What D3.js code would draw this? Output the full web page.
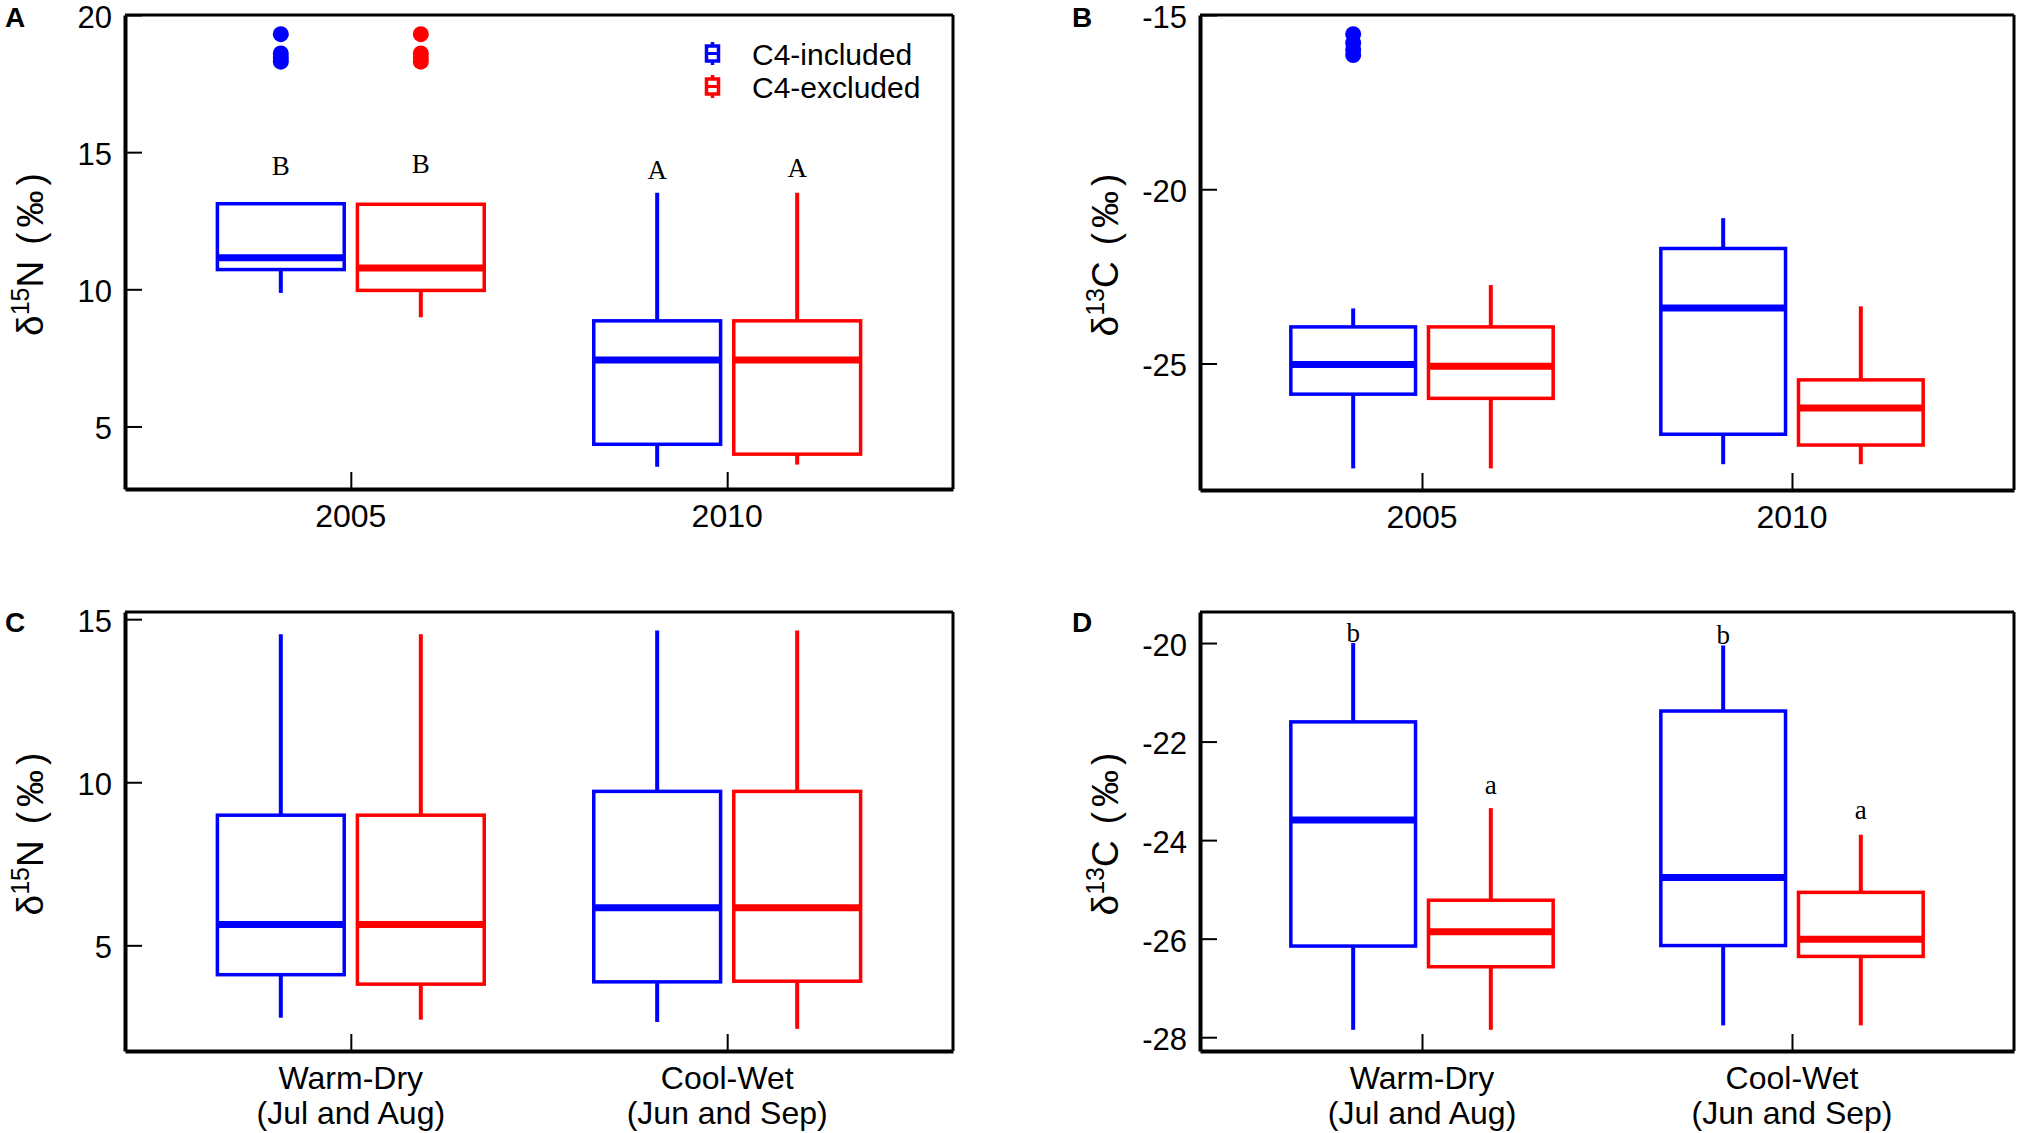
<!DOCTYPE html>
<html>
<head>
<meta charset="utf-8">
<script src="https://cdn.jsdelivr.net/npm/d3@7"></script>
<style>
  html, body { margin: 0; padding: 0; background: #fff; }
  svg { display: block; }
</style>
</head>
<body>
<div id="chart"></div>
<script>
// --- data (box stats: [lowWhisker, q1, median, q3, highWhisker]) ---
const series = ["C4-included", "C4-excluded"];
const seriesColors = ["#0000ff", "#ff0000"];
const yearLabels = [["2005"], ["2010"]];
const seasonLabels = [["Warm-Dry", "(Jul and Aug)"], ["Cool-Wet", "(Jun and Sep)"]];

const nYearIncluded = [[9.87, 10.72, 11.15, 13.12, 13.12], [3.53, 4.35, 7.42, 8.85, 13.52]];
const nYearExcluded = [[8.98, 9.96, 10.78, 13.1, 13.1], [3.61, 3.99, 7.42, 8.85, 13.52]];
const nYearOutIncluded = [[19.3, 18.6, 18.45, 18.3], []];
const nYearOutExcluded = [[19.3, 18.6, 18.45, 18.3], []];
const nYearLetters = [["B", 14.5], ["B", 14.6], ["A", 14.35], ["A", 14.45]];
const nYearTicks = [5, 10, 15, 20];

const cYearIncluded = [[-28.01, -25.88, -25.03, -23.95, -23.42], [-27.89, -27.03, -23.41, -21.7, -20.83]];
const cYearExcluded = [[-28.01, -26.0, -25.08, -23.95, -22.75], [-27.89, -27.34, -26.28, -25.47, -23.36]];
const cYearOutIncluded = [[-15.55, -15.8, -16.0, -16.15], []];
const cYearOutExcluded = [[], []];
const cYearTicks = [-25, -20, -15];

const nSeasonIncluded = [[2.78, 4.10, 5.64, 8.99, 14.54], [2.65, 3.88, 6.15, 9.72, 14.65]];
const nSeasonExcluded = [[2.72, 3.81, 5.64, 8.99, 14.54], [2.44, 3.90, 6.15, 9.72, 14.65]];
const nSeasonTicks = [5, 10, 15];

const cSeasonIncluded = [[-27.85, -26.15, -23.59, -21.6, -20.0], [-27.76, -26.14, -24.76, -21.38, -20.05]];
const cSeasonExcluded = [[-27.85, -26.57, -25.86, -25.22, -23.35], [-27.76, -26.36, -26.01, -25.06, -23.89]];
const cSeasonLetters = [["b", -19.78], ["a", -22.88], ["b", -19.82], ["a", -23.37]];
const cSeasonTicks = [-28, -26, -24, -22, -20];

const W = 2021, H = 1133;
const sans = "'Liberation Sans', Arial, sans-serif";
const serif = "'Liberation Serif', 'Times New Roman', serif";

const svg = d3.select("#chart").append("svg")
    .attr("width", W).attr("height", H)
    .attr("viewBox", `0 0 ${W} ${H}`);

const panels = [
    { tag: "A", x0: 125, x1: 953, y0: 15, y1: 489, domain: [2.72, 20], ticks: nYearTicks,
      iso: "15", el: "N", cats: yearLabels, boxes: [nYearIncluded, nYearExcluded],
      outs: [nYearOutIncluded, nYearOutExcluded], letters: nYearLetters, legend: true },
    { tag: "B", x0: 1200, x1: 2014, y0: 15, y1: 490, domain: [-28.63, -15], ticks: cYearTicks,
      iso: "13", el: "C", cats: yearLabels, boxes: [cYearIncluded, cYearExcluded],
      outs: [cYearOutIncluded, cYearOutExcluded], letters: [] },
    { tag: "C", x0: 125, x1: 953, y0: 612, y1: 1051, domain: [1.76, 15.22], ticks: nSeasonTicks,
      iso: "15", el: "N", cats: seasonLabels, boxes: [nSeasonIncluded, nSeasonExcluded],
      outs: [[[], []], [[], []]], letters: [] },
    { tag: "D", x0: 1200, x1: 2014, y0: 612, y1: 1051, domain: [-28.28, -19.37], ticks: cSeasonTicks,
      iso: "13", el: "C", cats: seasonLabels, boxes: [cSeasonIncluded, cSeasonExcluded],
      outs: [[[], []], [[], []]], letters: cSeasonLetters }
];

const offsets = [-0.186, 0.186];
const boxW = 0.337;

const drawPanel = (p) => {
    const g = svg.append("g");
    const x = d3.scaleLinear().domain([0.4, 2.6]).range([p.x0, p.x1]);
    const y = d3.scaleLinear().domain(p.domain).range([p.y1, p.y0]);

    // boxes
    p.boxes.forEach((stats, s) => {
        const col = seriesColors[s];
        stats.forEach((b, i) => {
            const cx = x(i + 1 + offsets[s]);
            const xl = x(i + 1 + offsets[s] - boxW / 2), xr = x(i + 1 + offsets[s] + boxW / 2);
            g.append("line").attr("x1", cx).attr("x2", cx)
                .attr("y1", y(b[0])).attr("y2", y(b[1]))
                .attr("stroke", col).attr("stroke-width", 4);
            g.append("line").attr("x1", cx).attr("x2", cx)
                .attr("y1", y(b[3])).attr("y2", y(b[4]))
                .attr("stroke", col).attr("stroke-width", 4);
            g.append("rect").attr("x", xl).attr("width", xr - xl)
                .attr("y", y(b[3])).attr("height", y(b[1]) - y(b[3]))
                .attr("fill", "none").attr("stroke", col).attr("stroke-width", 3.5);
            g.append("line").attr("x1", xl).attr("x2", xr)
                .attr("y1", y(b[2])).attr("y2", y(b[2]))
                .attr("stroke", col).attr("stroke-width", 7);
            // outliers
            g.selectAll(null).data(p.outs[s][i]).enter().append("circle")
                .attr("cx", cx).attr("cy", d => y(d)).attr("r", 8)
                .attr("fill", col);
        });
    });

    // significance letters (order: incl g1, excl g1, incl g2, excl g2)
    p.letters.forEach((l, k) => {
        const grp = Math.floor(k / 2) + 1, s = k % 2;
        g.append("text").attr("x", x(grp + offsets[s])).attr("y", y(l[1]))
            .attr("dy", "0.35em").attr("text-anchor", "middle")
            .attr("font-family", serif).attr("font-size", 27).text(l[0]);
    });

    // frame
    g.append("line").attr("x1", p.x0).attr("x2", p.x1).attr("y1", p.y0).attr("y2", p.y0)
        .attr("stroke", "#000").attr("stroke-width", 3);
    g.append("line").attr("x1", p.x1).attr("x2", p.x1).attr("y1", p.y0).attr("y2", p.y1)
        .attr("stroke", "#000").attr("stroke-width", 3);

    // y axis, inward ticks, plain hyphen for negatives
    const yAxis = g.append("g").attr("transform", `translate(${p.x0},0)`)
        .call(d3.axisLeft(y).tickValues(p.ticks).tickSizeInner(-17).tickSizeOuter(0)
            .tickPadding(13).tickFormat(d => String(d)));
    yAxis.select(".domain").attr("stroke-width", 4);
    yAxis.selectAll(".tick line").attr("stroke-width", 2);
    yAxis.selectAll(".tick text").attr("font-family", sans).attr("font-size", 31)
        .attr("dy", "0.4em").attr("fill", "#000");

    // x axis
    const xAxis = g.append("g").attr("transform", `translate(0,${p.y1})`)
        .call(d3.axisBottom(x).tickValues([1, 2]).tickSizeInner(-17).tickSizeOuter(0).tickFormat(""));
    xAxis.select(".domain").attr("stroke-width", 4);
    xAxis.selectAll(".tick line").attr("stroke-width", 2);
    p.cats.forEach((lines, i) => {
        lines.forEach((t, j) => {
            g.append("text").attr("x", x(i + 1)).attr("y", p.y1 + 38 + j * 35)
                .attr("text-anchor", "middle").attr("font-family", sans).attr("font-size", 32)
                .text(t);
        });
    });

    // y title
    const tx = p.x0 - 82, ty = (p.y0 + p.y1) / 2;
    const title = g.append("text").attr("transform", `translate(${tx},${ty}) rotate(-90)`)
        .attr("text-anchor", "middle").attr("font-family", sans).attr("font-size", 37);
    title.append("tspan").text("δ");
    title.append("tspan").attr("font-size", 25).attr("dy", -14).text(p.iso);
    title.append("tspan").attr("dy", 14).text(p.el);
    title.append("tspan").attr("dx", 16).attr("letter-spacing", 5).text("(‰)");

    // panel tag
    g.append("text").attr("x", p.x0 - (p.x0 > 1000 ? 128 : 120)).attr("y", p.y0 + (p.y0 > 500 ? 20 : 12))
        .attr("font-family", sans).attr("font-weight", "bold").attr("font-size", 28).text(p.tag);

    if (p.legend) {
        series.forEach((name, s) => {
            const cy = 53.5 + s * 33, cx = 712.5;
            const col = seriesColors[s];
            g.append("line").attr("x1", cx).attr("x2", cx).attr("y1", cy - 11.5).attr("y2", cy + 11.5)
                .attr("stroke", col).attr("stroke-width", 3.5);
            g.append("rect").attr("x", cx - 6).attr("y", cy - 7.5).attr("width", 12).attr("height", 15)
                .attr("fill", "#fff").attr("stroke", col).attr("stroke-width", 3.5);
            g.append("line").attr("x1", cx - 6).attr("x2", cx + 6).attr("y1", cy).attr("y2", cy)
                .attr("stroke", col).attr("stroke-width", 3);
            g.append("text").attr("x", 752).attr("y", cy + 11)
                .attr("font-family", sans).attr("font-size", 30).text(name);
        });
    }
};

panels.forEach(drawPanel);
</script>
</body>
</html>
